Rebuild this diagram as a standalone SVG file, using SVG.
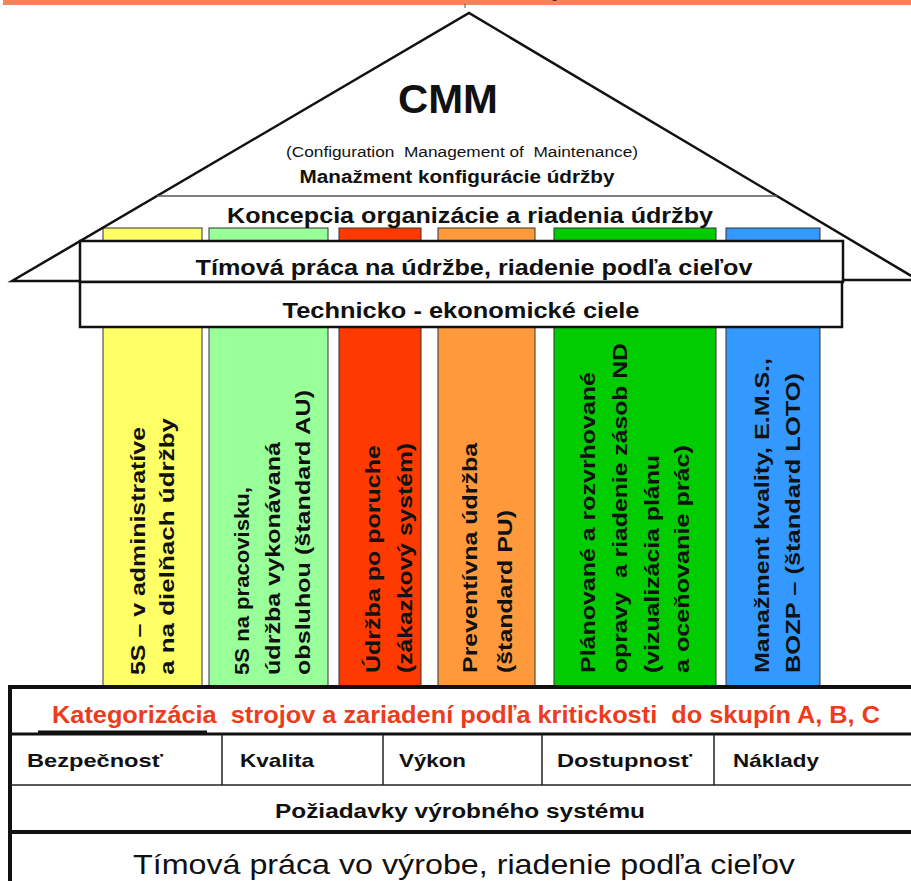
<svg xmlns="http://www.w3.org/2000/svg" width="911" height="881" viewBox="0 0 911 881">
  <style>
    .sans { font-family: "Liberation Sans", Arial, sans-serif; fill: #111; }
    .b { font-weight: bold; }
    .pil { font-family: "Liberation Sans", Arial, sans-serif; font-weight: bold; font-size: 21px; fill: #111; }
    .pillar { stroke: #333; stroke-width: 1; }
    .box { fill: #fff; stroke: #111; stroke-width: 2.5; }
    .rule { stroke: #111; fill: none; }
    .pre { white-space: pre; }
  </style>
  <rect x="0" y="0" width="911" height="881" fill="#fff"/>

  <!-- header strip -->
  <g id="header">
    <rect x="3" y="0" width="908" height="5" fill="#F4845A"/>
    <line x1="465" y1="4" x2="465" y2="8" stroke="#555" stroke-width="1"/>
    <text class="sans" x="551" y="-2" font-size="13">g</text>
  </g>

  <!-- pillars (drawn full height, boxes sit on top) -->
  <g id="pillars">
    <rect class="pillar" x="103" y="228" width="99" height="459" fill="#FFFF66"/>
    <rect class="pillar" x="209" y="228" width="119" height="459" fill="#99FF99"/>
    <rect class="pillar" x="339" y="228" width="82" height="459" fill="#FF3A00"/>
    <rect class="pillar" x="438" y="228" width="97" height="459" fill="#FF9A3C"/>
    <rect class="pillar" x="554" y="228" width="162" height="459" fill="#00CC00"/>
    <rect class="pillar" x="726" y="228" width="94" height="459" fill="#3399FF"/>
  </g>

  <!-- roof -->
  <g id="roof">
    <polyline class="rule" stroke-width="2.5" points="80,281 12,281 469,13 935,290"/>
    <line x1="843" y1="280" x2="911" y2="280" stroke="#111" stroke-width="2.5"/>
    <line x1="157" y1="196" x2="777" y2="196" stroke="#555" stroke-width="1.5"/>
    <text class="sans b" x="448" y="113" font-size="40" text-anchor="middle" textLength="100" lengthAdjust="spacingAndGlyphs">CMM</text>
    <text class="sans pre" xml:space="preserve" x="462" y="157" font-size="14" text-anchor="middle" textLength="352" lengthAdjust="spacingAndGlyphs">(Configuration  Management of  Maintenance)</text>
    <text class="sans b" x="457" y="183" font-size="18" text-anchor="middle" textLength="315" lengthAdjust="spacingAndGlyphs">Manažment konfigurácie údržby</text>
    <text class="sans b" x="470" y="223" font-size="22" text-anchor="middle" textLength="486" lengthAdjust="spacingAndGlyphs">Koncepcia organizácie a riadenia údržby</text>
  </g>

  <!-- beam boxes -->
  <g id="teamwork">
    <rect class="box" x="80" y="241" width="763" height="41"/>
    <text class="sans b" x="474" y="275" font-size="22" text-anchor="middle" textLength="557" lengthAdjust="spacingAndGlyphs">Tímová práca na údržbe, riadenie podľa cieľov</text>
  </g>
  <g id="goals">
    <rect class="box" x="80" y="282" width="762" height="45"/>
    <text class="sans b" x="461" y="318" font-size="22" text-anchor="middle" textLength="357" lengthAdjust="spacingAndGlyphs">Technicko - ekonomické ciele</text>
  </g>

  <!-- pillar labels, read bottom to top -->
  <g id="pillar-5s-admin">
    <text class="pil" transform="translate(145,675) rotate(-90)" textLength="248" lengthAdjust="spacingAndGlyphs">5S – v administratíve</text>
    <text class="pil" transform="translate(174,675) rotate(-90)" textLength="257" lengthAdjust="spacingAndGlyphs">a na dielňach údržby</text>
  </g>
  <g id="pillar-5s-workplace">
    <text class="pil" transform="translate(249,675) rotate(-90)" textLength="188" lengthAdjust="spacingAndGlyphs">5S na pracovisku,</text>
    <text class="pil" transform="translate(280,675) rotate(-90)" textLength="233" lengthAdjust="spacingAndGlyphs">údržba vykonávaná</text>
    <text class="pil" transform="translate(310,675) rotate(-90)" textLength="285" lengthAdjust="spacingAndGlyphs">obsluhou (štandard AU)</text>
  </g>
  <g id="pillar-breakdown">
    <text class="pil" transform="translate(380,673) rotate(-90)" textLength="228" lengthAdjust="spacingAndGlyphs">Údržba po poruche</text>
    <text class="pil" transform="translate(412,673) rotate(-90)" textLength="230" lengthAdjust="spacingAndGlyphs">(zákazkový systém)</text>
  </g>
  <g id="pillar-preventive">
    <text class="pil" transform="translate(477,673) rotate(-90)" textLength="230" lengthAdjust="spacingAndGlyphs">Preventívna údržba</text>
    <text class="pil" transform="translate(512,673) rotate(-90)" textLength="163" lengthAdjust="spacingAndGlyphs">(štandard PU)</text>
  </g>
  <g id="pillar-planned">
    <text class="pil" transform="translate(595,673) rotate(-90)" textLength="301" lengthAdjust="spacingAndGlyphs">Plánované a rozvrhované</text>
    <text class="pil pre" xml:space="preserve" transform="translate(627,673) rotate(-90)" textLength="330" lengthAdjust="spacingAndGlyphs">opravy  a riadenie zásob ND</text>
    <text class="pil" transform="translate(659,673) rotate(-90)" textLength="218" lengthAdjust="spacingAndGlyphs">(vizualizácia plánu</text>
    <text class="pil" transform="translate(689,673) rotate(-90)" textLength="228" lengthAdjust="spacingAndGlyphs">a oceňovanie prác)</text>
  </g>
  <g id="pillar-quality">
    <text class="pil" transform="translate(769,673) rotate(-90)" textLength="315" lengthAdjust="spacingAndGlyphs">Manažment kvality, E.M.S.,</text>
    <text class="pil" transform="translate(800,673) rotate(-90)" textLength="300" lengthAdjust="spacingAndGlyphs">BOZP – (štandard LOTO)</text>
  </g>

  <!-- foundation -->
  <g id="foundation">
    <rect x="10" y="687" width="910" height="200" fill="#fff"/>
    <line x1="8" y1="687" x2="911" y2="687" stroke="#111" stroke-width="4"/>
    <line x1="10" y1="685" x2="10" y2="881" stroke="#111" stroke-width="4"/>
    <line x1="10" y1="734" x2="911" y2="734" stroke="#111" stroke-width="3"/>
    <rect x="38" y="730.5" width="169" height="4" fill="#111"/>
    <line x1="10" y1="785" x2="911" y2="785" stroke="#222" stroke-width="1.5"/>
    <line x1="10" y1="832" x2="911" y2="832" stroke="#111" stroke-width="4"/>
  </g>
  <g id="categorization">
    <text class="sans b pre" xml:space="preserve" x="52" y="723" font-size="23" style="fill:#EE3B1B" textLength="828" lengthAdjust="spacingAndGlyphs">Kategorizácia  strojov a zariadení podľa kritickosti  do skupín A, B, C</text>
  </g>
  <g id="criteria">
    <line x1="222" y1="734" x2="222" y2="785" stroke="#222" stroke-width="1.5"/>
    <line x1="383" y1="734" x2="383" y2="785" stroke="#222" stroke-width="1.5"/>
    <line x1="542" y1="734" x2="542" y2="785" stroke="#222" stroke-width="1.5"/>
    <line x1="714" y1="734" x2="714" y2="785" stroke="#222" stroke-width="1.5"/>
    <text class="sans b" x="27" y="767" font-size="19" textLength="136" lengthAdjust="spacingAndGlyphs">Bezpečnosť</text>
    <text class="sans b" x="240" y="767" font-size="19" textLength="74" lengthAdjust="spacingAndGlyphs">Kvalita</text>
    <text class="sans b" x="399" y="767" font-size="19" textLength="67" lengthAdjust="spacingAndGlyphs">Výkon</text>
    <text class="sans b" x="557" y="767" font-size="19" textLength="135" lengthAdjust="spacingAndGlyphs">Dostupnosť</text>
    <text class="sans b" x="733" y="767" font-size="19" textLength="86" lengthAdjust="spacingAndGlyphs">Náklady</text>
  </g>
  <g id="requirements">
    <text class="sans b" x="460" y="818" font-size="20" text-anchor="middle" textLength="370" lengthAdjust="spacingAndGlyphs">Požiadavky výrobného systému</text>
  </g>
  <g id="production-teamwork">
    <text class="sans" x="464" y="874" font-size="28" text-anchor="middle" textLength="662" lengthAdjust="spacingAndGlyphs">Tímová práca vo výrobe, riadenie podľa cieľov</text>
  </g>
</svg>
